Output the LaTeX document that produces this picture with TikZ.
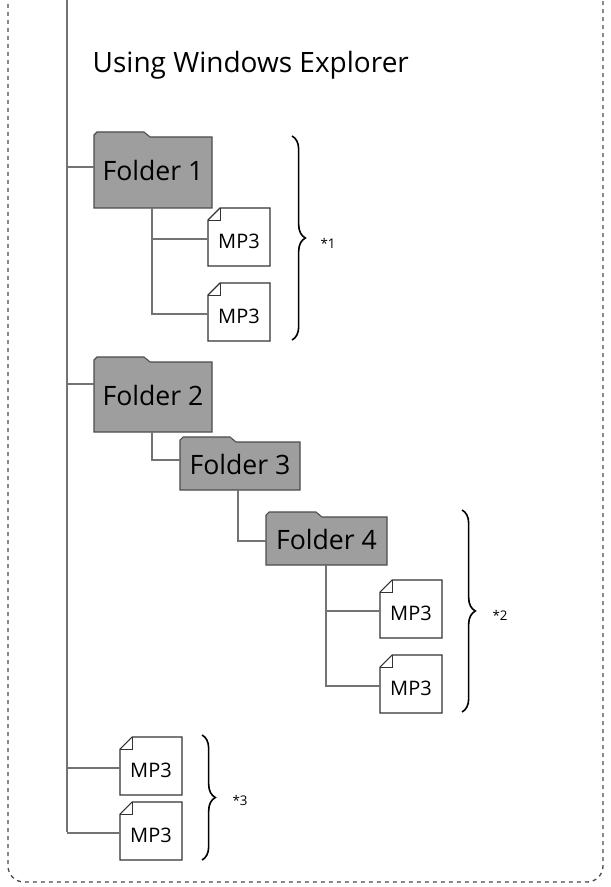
\documentclass[tikz,border=0pt]{standalone}
\usepackage{fontspec}
\setmainfont{Open Sans}
\usetikzlibrary{decorations.pathreplacing}
\begin{document}
\begin{tikzpicture}[x=0.75pt,y=-0.75pt,
 ln/.style={draw=black!55,line width=0.9pt},
 folder/.style={fill=black!38,draw=black!70,line width=0.8pt},
 ftext/.style={font=\fontsize{20}{20}\selectfont},
 mtext/.style={font=\fontsize{15}{15}\selectfont},
 br/.style={decorate,decoration={brace,amplitude=10pt},line width=1.2pt},
 note/.style={font=\fontsize{10}{10}\selectfont}]
\useasboundingbox (0,0) rectangle (610,887);
\draw[black!70,dashed,line width=1pt,rounded corners=12pt] (8,-20) rectangle (603,882);
\node[anchor=west,font=\fontsize{21}{21}\selectfont] (title) at (88,65) {Using Windows Explorer};
\newcommand{\fold}[6]{% name x1 y1 x2 y2 text
 \path[folder] (#2,#3) -- (#2,#3-10) -- (#2+3,#3-13) -- (#2+50,#3-13) -- (#2+56,#3-8) -- (#4,#3-8) -- (#4,#5) -- (#2,#5) -- cycle;
 \node[ftext,anchor=center] (#1) at ({(#2+#4)/2},{(#3+#5)/2-6}) {#6};
}
\newcommand{\mpthree}[3]{% name x y (top-left)
 \draw[black!80,fill=white,line width=0.8pt] (#2+12,#3) -- (#2+62,#3) -- (#2+62,#3+58) -- (#2,#3+58) -- (#2,#3+12) -- cycle;
 \draw[black!80,line width=0.6pt] (#2,#3+12) -- (#2+12,#3+12) -- (#2+12,#3);
 \node[mtext,inner sep=0pt] (#1) at (#2+31,#3+33) {MP3};
 \coordinate (#1w) at (#2,#3+31);
}
\coordinate (top) at (67,0);
\coordinate (bot) at (67,832);
\draw[ln] (top) -- (bot);
\fold{f1}{94}{145}{212}{208}{Folder 1}
\fold{f2}{94}{370}{212}{432}{Folder 2}
\fold{f3}{180}{450}{300}{490}{Folder 3}
\fold{f4}{266}{525}{387}{565}{Folder 4}
\mpthree{m1}{208}{208}
\mpthree{m2}{208}{283}
\mpthree{m3}{380}{580}
\mpthree{m4}{380}{655}
\mpthree{m5}{120}{737}
\mpthree{m6}{120}{802}
\draw[ln] (67,167) -- (94,167);
\draw[ln] (67,384) -- (94,384);
\draw[ln] (152,208) |- (m2w); \draw[ln] (152,239) -- (m1w);
\draw[ln] (152,432) |- (180,460);
\draw[ln] (238,490) |- (266,541);
\draw[ln] (326,565) |- (m4w); \draw[ln] (326,611) -- (m3w);
\draw[ln] (67,768) -- (m5w); \draw[ln] (67,833) -- (m6w);
\draw[br] (292,136) -- (292,340);
\node[note] (n1) at (328,243) {*1};
\draw[br] (462,510) -- (462,712);
\node[note] (n2) at (500,615) {*2};
\draw[br] (202,735) -- (202,860);
\node[note] (n3) at (240,800) {*3};
\end{tikzpicture}
\end{document}
